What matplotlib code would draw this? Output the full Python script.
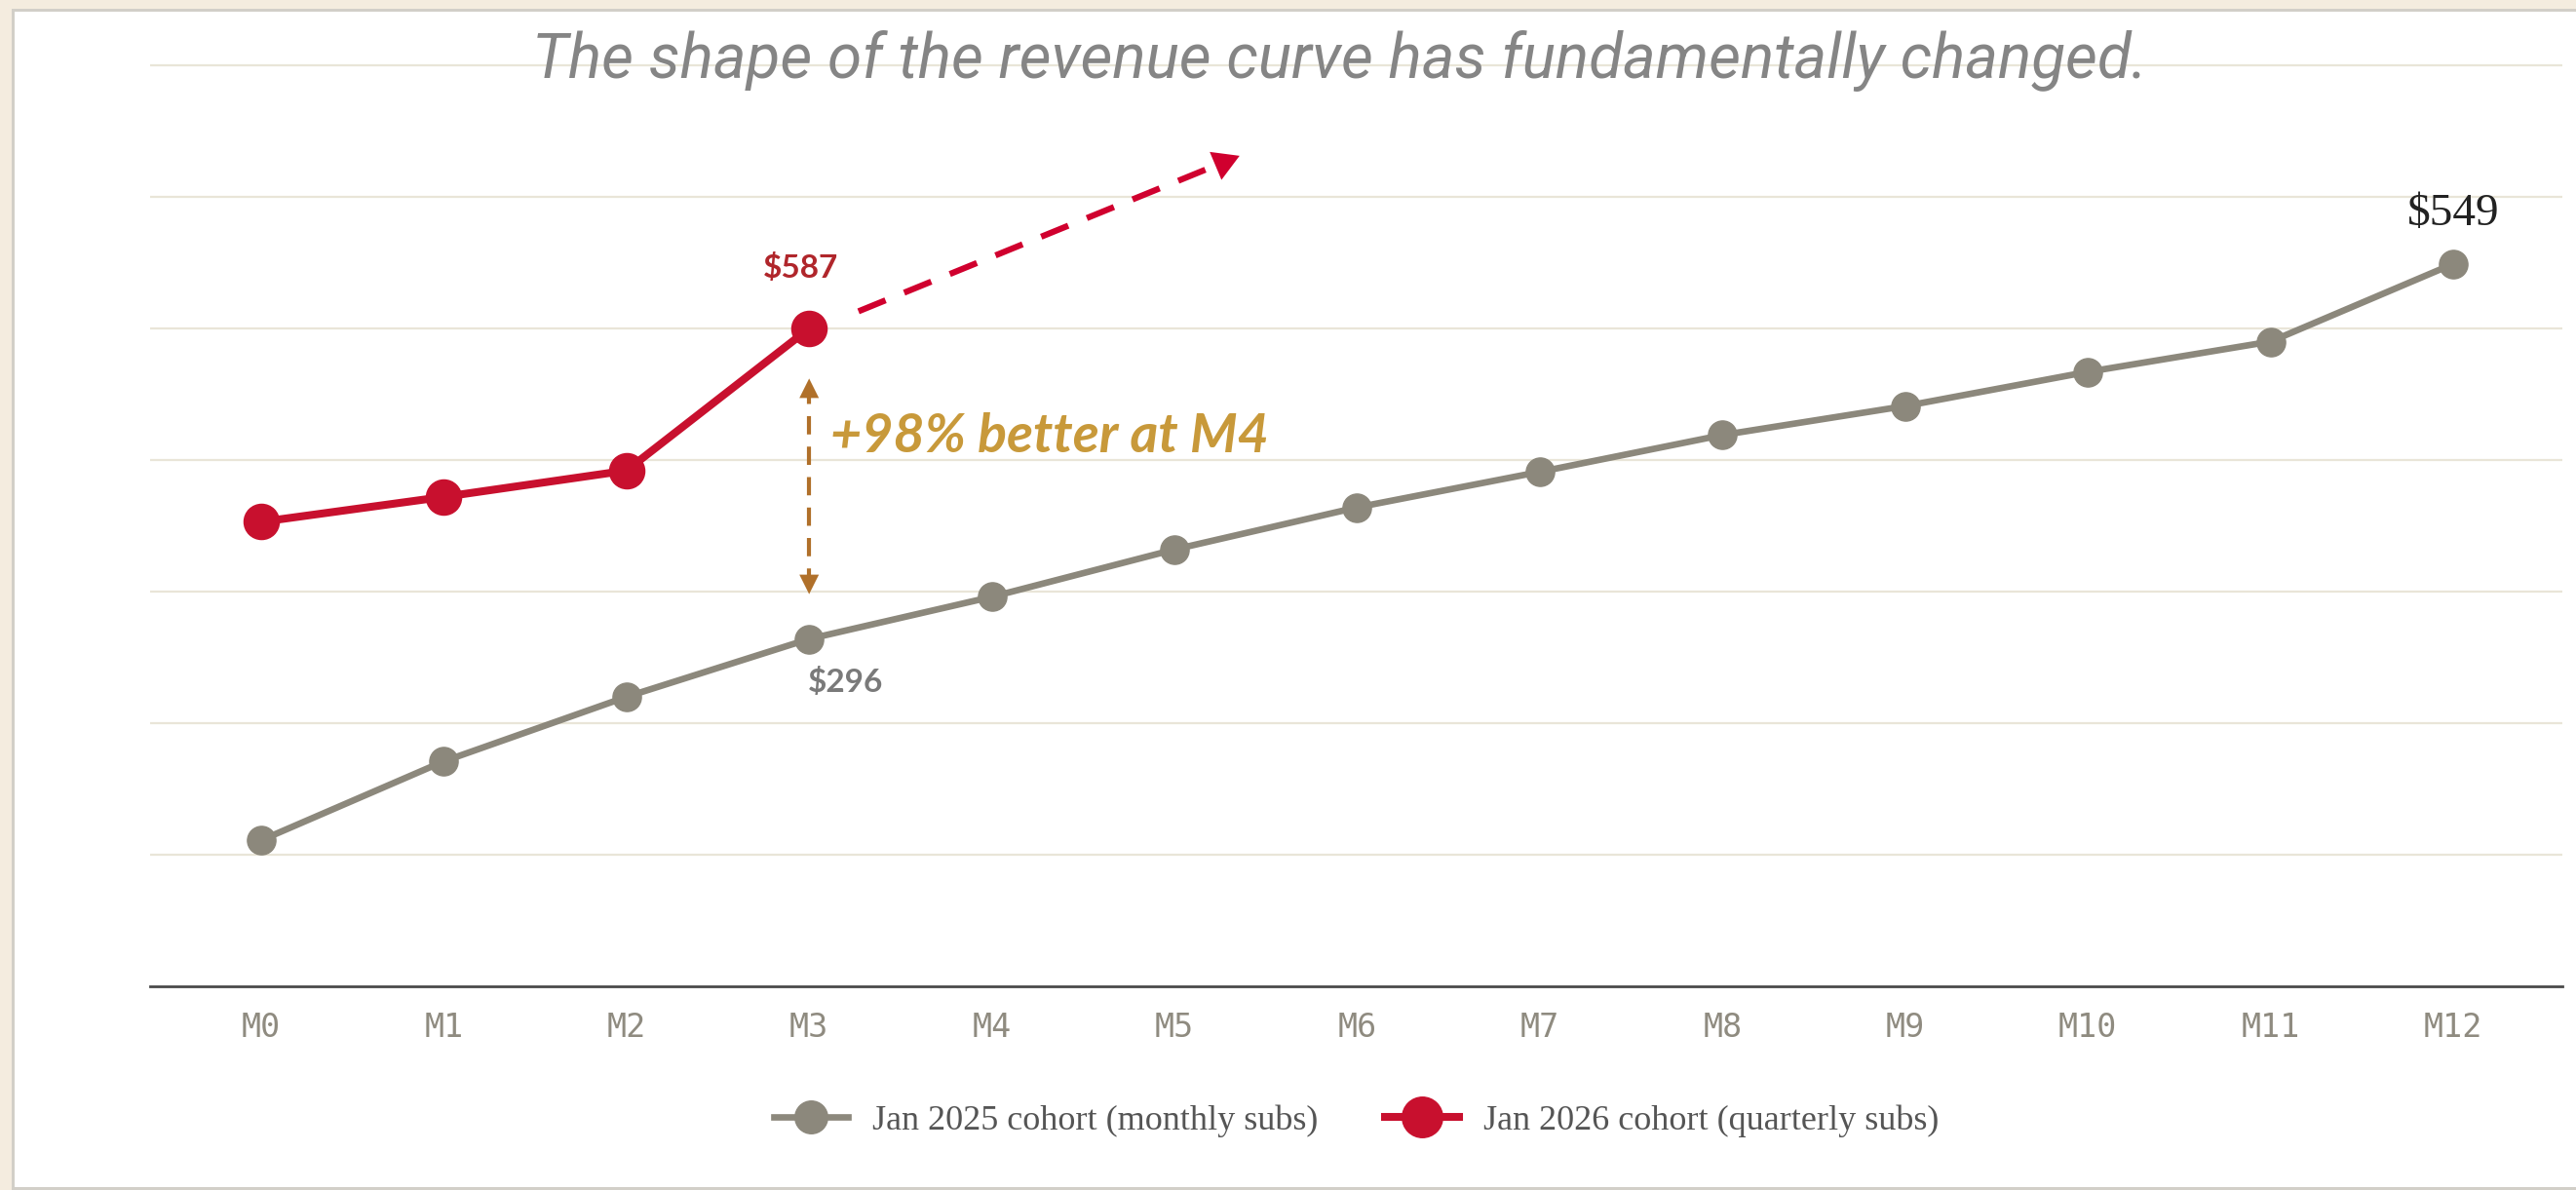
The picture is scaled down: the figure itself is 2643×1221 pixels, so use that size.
import numpy as np
import matplotlib
matplotlib.use("Agg")
import matplotlib.pyplot as plt
from matplotlib.patches import Rectangle, FancyArrowPatch

# values
months = ["M0", "M1", "M2", "M3", "M4", "M5", "M6", "M7", "M8", "M9", "M10", "M11", "M12"]
jan25_monthly = [111, 171, 220, 264, 296, 332, 364, 391, 419, 441, 467, 490, 549]
jan26_quarterly = [353, 372, 392, 500]
grid_values = [100, 200, 300, 400, 500, 600, 700]

# annotation anchors (data units)
gap_x = 3
gap_low, gap_high = 296, 464
trend_from = (3.27, 513)
trend_to = (5.37, 632)

GRAY = "#8C887C"
RED = "#C8102E"
GOLD = "#C8993A"
BROWN = "#B0702A"
BEIGE = "#F4ECDF"

W, H = 2643, 1221
fig = plt.figure(figsize=(W / 100, H / 100), dpi=100, facecolor=BEIGE)

#white card with a soft edge
fig.patches.append(Rectangle((12 / W, 0), 1, 1 - 9 / H, transform=fig.transFigure,
                             facecolor="#D2CFC8", edgecolor="none", zorder=-2))
fig.patches.append(Rectangle((15 / W, 3 / H), 1, 1 - 15 / H, transform=fig.transFigure,
                             facecolor="white", edgecolor="none", zorder=-1))

ax_l, ax_r, ax_b = 154 / W, 2629 / W, 1 - 1012 / H
ymax = 705
ax_t = 1 - (1012 - ymax * 1.35) / H
ax = fig.add_axes([ax_l, ax_b, ax_r - ax_l, ax_t - ax_b])
ax.set_facecolor("none")

x = np.arange(len(months))
ax.set_xlim(-0.608, 12.598)
ax.set_ylim(0, ymax)

for g in grid_values:
    ax.axhline(g, color="#E9E5D8", lw=1.6, zorder=0)

for s in ["top", "right", "left"]:
    ax.spines[s].set_visible(False)
ax.spines["bottom"].set_color("#4A4A4A")
ax.spines["bottom"].set_linewidth(2)
ax.set_yticks([])
ax.set_xticks(x)
ax.set_xticklabels(months, family="DejaVu Sans Mono", fontsize=24, color="#8F8B80")
ax.tick_params(axis="x", length=0, pad=19)

ax.plot(x, jan25_monthly, color=GRAY, lw=4.8, marker="o", ms=21, zorder=3,
        label="Jan 2025 cohort (monthly subs)")
ax.plot(x[:len(jan26_quarterly)], jan26_quarterly, color=RED, lw=5.8, marker="o", ms=26,
        zorder=4, label="Jan 2026 cohort (quarterly subs)")

# dashed projection arrow
ax.plot([trend_from[0], trend_to[0] - 0.08], [trend_from[1], trend_to[1] - 4.5], color="#D0002E",
        lw=4.5, dashes=(4.8, 3.3), solid_capstyle="butt", zorder=3)
ax.add_patch(FancyArrowPatch((trend_to[0] - 0.12, trend_to[1] - 7), trend_to,
                             arrowstyle="-|>,head_length=12,head_width=7", color="#D0002E",
                             lw=0, mutation_scale=1.6, zorder=3))

# gap double arrow
ax.plot([gap_x, gap_x], [gap_low + 8, gap_high - 8], color=BROWN, lw=3, dashes=(4.5, 3),
        zorder=3)
ax.annotate("", xy=(gap_x, gap_high), xytext=(gap_x, gap_high - 12),
            arrowprops=dict(arrowstyle="-|>,head_length=0.8,head_width=0.4", color=BROWN, lw=0,
                            mutation_scale=18))
ax.annotate("", xy=(gap_x, gap_low), xytext=(gap_x, gap_low + 12),
            arrowprops=dict(arrowstyle="-|>,head_length=0.8,head_width=0.4", color=BROWN, lw=0,
                            mutation_scale=18))
ax.text(3.116, 418, "+98% better at M4", family="Lato", fontsize=40, fontweight="bold",
        fontstyle="italic", color=GOLD, ha="left", va="center")

# point labels
ax.annotate("$587", (3, jan26_quarterly[3]), xytext=(-6, 45), textcoords="offset points",
            ha="center", va="center", family="Lato", fontweight="bold", fontsize=24,
            color="#B0262B")
ax.annotate("$296", (3, jan25_monthly[3]), xytext=(27, -32), textcoords="offset points",
            ha="center", va="center", family="Lato", fontweight="bold", fontsize=24,
            color="#7A7A7A")
ax.annotate("$549", (12, jan25_monthly[12]), xytext=(0, 36.5), textcoords="offset points",
            ha="center", va="center", family="Liberation Serif", fontsize=34, color="#222222")

fig.text(1375 / W, 1 - 80 / H, "The shape of the revenue curve has fundamentally changed.",
         family="Roboto", fontstyle="italic", fontsize=46, color="#858585",
         ha="center", va="baseline")

ax_h_px = 1012 - (1012 - ymax * 1.35)
leg = ax.legend(loc="center", bbox_to_anchor=(0.5, -(1150 - 1012) / ax_h_px),
                ncol=2, frameon=False, prop={"family": "Liberation Serif", "size": 26},
                handlelength=2.1, handletextpad=0.7, columnspacing=1.9, markerscale=1.15)
for t in leg.get_texts():
    t.set_color("#555555")

fig.savefig("out.png", dpi=100, facecolor=BEIGE)
